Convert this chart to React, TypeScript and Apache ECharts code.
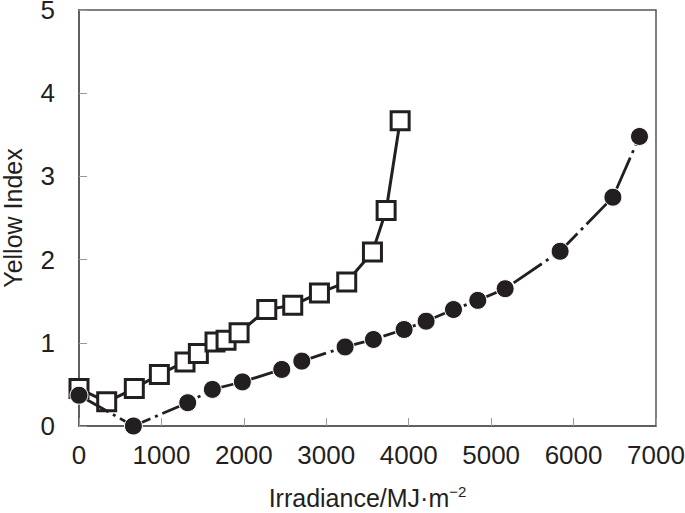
import React, { useEffect, useRef } from "react";
import * as echarts from "echarts";

const squareX = [0, 336, 671, 975, 1286, 1448, 1650, 1784, 1942, 2278, 2593, 2917, 3248, 3560, 3726, 3896];
const squareY = [0.45, 0.29, 0.45, 0.62, 0.77, 0.87, 1.01, 1.03, 1.12, 1.4, 1.45, 1.6, 1.73, 2.09, 2.59, 3.67];

const circleX = [0, 660, 1319, 1618, 1982, 2460, 2703, 3228, 3572, 3944, 4211, 4543, 4838, 5170, 5837, 6477, 6800];
const circleY = [0.37, 0.0, 0.28, 0.44, 0.53, 0.68, 0.78, 0.95, 1.04, 1.16, 1.26, 1.4, 1.51, 1.65, 2.1, 2.75, 3.48];

const xTicks = [0, 1000, 2000, 3000, 4000, 5000, 6000, 7000];
const yTicks = [0, 1, 2, 3, 4, 5];

const FONT = "'Liberation Sans', Arial, Helvetica, sans-serif";
const INK = "#231f20";

export default function App() {
  const ref = useRef<HTMLDivElement>(null);
  useEffect(() => {
    if (!ref.current) return;
    const chart = echarts.init(ref.current, null, { renderer: "svg" });
    chart.setOption({
      animation: false,
      backgroundColor: "#ffffff",
      grid: {
        left: 79,
        right: 29,
        top: 10,
        bottom: 87,
        outerBoundsMode: "none",
        containLabel: false,
        show: true,
        borderColor: "#555555",
        borderWidth: 1.5,
        backgroundColor: "transparent",
      },
      xAxis: {
        type: "value",
        min: xTicks[0],
        max: xTicks[xTicks.length - 1],
        interval: 1000,
        name: "Irradiance/MJ·m{sup|−2}",
        nameLocation: "middle",
        nameGap: 58,
        nameTextStyle: {
          fontFamily: FONT,
          fontSize: 25,
          color: INK,
          rich: {
            sup: { fontFamily: FONT, fontSize: 15, color: INK, verticalAlign: "top", padding: [0, 0, 12, 0] },
          },
        },
        axisLine: { show: true, lineStyle: { color: "#555555", width: 1.5 } },
        axisTick: { show: true, inside: true, length: 8, lineStyle: { color: "#999999", width: 1 } },
        axisLabel: {
          fontFamily: FONT,
          fontSize: 26,
          color: INK,
          margin: 16,
          formatter: (v: number) => String(v),
        },
        splitLine: { show: false },
      },
      yAxis: {
        type: "value",
        min: yTicks[0],
        max: yTicks[yTicks.length - 1],
        interval: 1,
        name: "Yellow Index",
        nameLocation: "middle",
        nameGap: 54,
        nameTextStyle: { fontFamily: FONT, fontSize: 25, color: INK },
        axisLine: { show: true, lineStyle: { color: "#555555", width: 1.5 } },
        axisTick: { show: true, inside: true, length: 8, lineStyle: { color: "#999999", width: 1 } },
        axisLabel: {
          fontFamily: FONT,
          fontSize: 26,
          color: INK,
          margin: 24,
          formatter: (v: number) => String(v),
        },
        splitLine: { show: false },
      },
      series: [
        {
          type: "line",
          data: squareX.map((x, i) => [x, squareY[i]]),
          symbol: "rect",
          symbolSize: 18,
          showSymbol: true,
          clip: false,
          lineStyle: { color: INK, width: 3 },
          itemStyle: { color: "#ffffff", borderColor: INK, borderWidth: 3 },
          z: 2,
        },
        {
          type: "line",
          data: circleX.map((x, i) => [x, circleY[i]]),
          symbol: "circle",
          symbolSize: 18,
          showSymbol: true,
          clip: false,
          lineStyle: { color: INK, width: 2.8, type: [34, 5, 3, 5] },
          itemStyle: { color: INK, borderColor: "#ffffff", borderWidth: 1 },
          z: 3,
        },
      ],
    });
    return () => chart.dispose();
  }, []);
  return <div ref={ref} style={{ width: 685, height: 513, position: "absolute", left: 0, top: 0 }} />;
}
